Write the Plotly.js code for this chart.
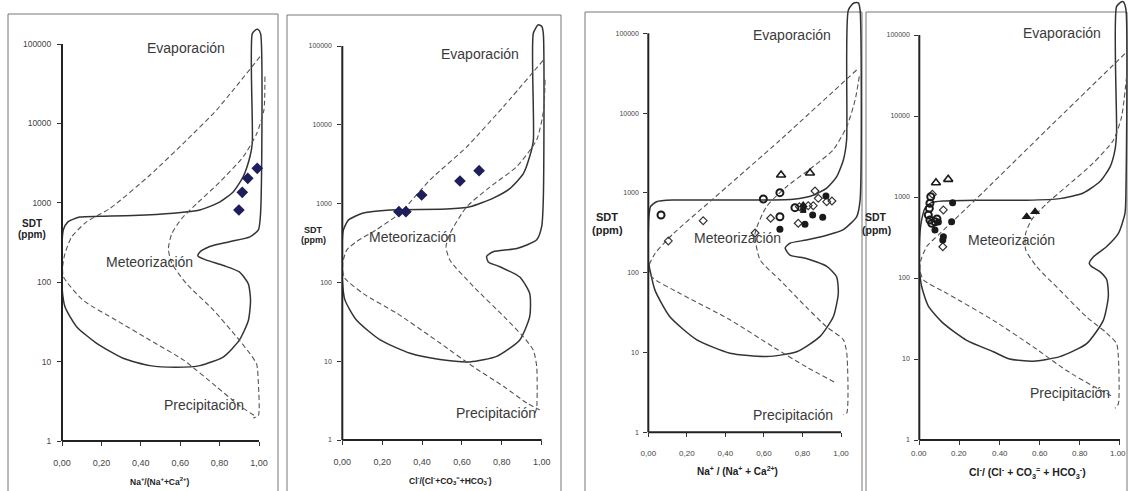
<!DOCTYPE html>
<html>
<head>
<meta charset="utf-8">
<script src="https://cdn.plot.ly/plotly-3.0.1.min.js"></script>
<style>html,body{margin:0;padding:0;background:#fff;overflow:hidden;width:1128px;height:491px;}#chart{width:1128px;height:491px;display:block;overflow:hidden;}</style>
</head>
<body>
<div id="chart"></div>
<script>
// ---------- DATA ----------
const xTickVals = [0, 0.2, 0.4, 0.6, 0.8, 1.0];
const xTickTextComma = ["0,00", "0,20", "0,40", "0,60", "0,80", "1,00"];
const xTickTextDot = ["0.00", "0.20", "0.40", "0.60", "0.80", "1.00"];
const yTickVals = [1, 10, 100, 1000, 10000, 100000];
const yTickText = ["1", "10", "100", "1000", "10000", "100000"];
const regionLabels = ["Evaporación", "Meteorización", "Precipitación"];
const xTitles = [
  "Na<sup>+</sup>/(Na<sup>+</sup>+Ca<sup>2+</sup>)",
  "Cl<sup>-</sup>/(Cl<sup>-</sup>+CO<sub>3</sub><sup>=</sup>+HCO<sub>3</sub><sup>-</sup>)",
  "Na<sup>+</sup> / (Na<sup>+</sup> + Ca<sup>2+</sup>)",
  "Cl<sup>-</sup>/ (Cl<sup>-</sup> + CO<sub>3</sub><sup>=</sup> + HCO<sub>3</sub><sup>-</sup>)"
];

// Panel 1 (Na) Gibbs boundary
const p1OutlineX = [0.987,0.966,0.966,0.954,0.92,0.87,0.80,0.70,0.565,0.36,0.19,0.09,0.03,0.007,0,0,0,0.015,0.074,0.176,0.31,0.447,0.58,0.70,0.82,0.90,0.946,0.957,0.946,0.90,0.82,0.73,0.69,0.70,0.75,0.85,0.954,0.997,1.008,1.008,0.995,0.987];
const p1OutlineY = [153000,135000,5620,3800,2140,1380,1020,813,741,692,676,661,575,457,309,155,87,49,27.5,17,11,8.9,8.5,8.9,11.5,18.6,33,59,95,135,162,191,214,240,282,324,372,457,741,135000,153000,153000];
const p1OuterDashX = [1.005,0.785,0.633,0.447,0.244,0.125,0.049,0.015,0.003,0.007,0.108,0.277,0.447,0.616,0.785,0.90,0.988];
const p1OuterDashY = [69200,14800,6170,2240,851,575,372,229,155,117,59,33,18.6,10.5,4.8,2.8,2.0];
const p1InnerDashX = [1.03,1.025,0.988,0.92,0.80,0.684,0.607,0.557,0.54,0.557,0.633,0.768,0.887,0.954,0.988,0.997,0.997,0.971];
const p1InnerDashY = [38900,14800,7410,3800,1820,977,631,407,263,174,95,44.7,20.4,12.6,9.3,5.2,2.1,1.95];
const p1SamplesX = [0.991, 0.943, 0.915, 0.898];
const p1SamplesY = [2720, 2035, 1356, 811];

// Panel 2 (Cl)
const p2OutlineX = [0.983,0.958,0.958,0.94,0.908,0.84,0.757,0.64,0.523,0.24,0.105,0.03,0.005,0,0,0.013,0.072,0.19,0.34,0.49,0.64,0.774,0.89,0.94,0.94,0.89,0.79,0.732,0.724,0.757,0.875,0.975,1.0,1.008,1.008,1.0,0.983];
const p2OutlineY = [186000,145000,6310,3980,2400,1550,1175,912,851,832,759,617,457,347,107,60,33,18.6,12.6,10.5,9.8,11.5,18.6,37,72,117,158,182,214,245,269,347,513,1120,145000,178000,186000];
const p2OuterDashX = [1.008,0.808,0.624,0.44,0.289,0.172,0.072,0.022,0.002,0.008,0.105,0.273,0.49,0.657,0.808,0.925,0.99];
const p2OuterDashY = [66100,17000,5250,2000,759,468,331,257,174,117,72,40.7,17,8.5,4.8,2.95,2.4];
const p2InnerDashX = [1.017,1.01,0.975,0.875,0.74,0.624,0.54,0.52,0.54,0.657,0.81,0.908,0.958,0.975,0.975,0.967];
const p2InnerDashY = [37200,15500,6460,2950,1620,912,417,282,191,89,37,20.4,13.8,8.5,2.6,2.2];
const p2SamplesX = [0.686, 0.590, 0.398, 0.319, 0.284];
const p2SamplesY = [2617, 1936, 1285, 789, 789];

// Panel 3 (Na)
const p3OutlineX = [1.067,1.038,1.029,1.012,0.977,0.926,0.856,0.753,0.614,0.337,0.13,0.043,0.012,0.003,0,0,0.009,0.035,0.112,0.25,0.424,0.614,0.77,0.89,0.96,0.986,0.977,0.926,0.82,0.735,0.71,0.735,0.82,0.926,1.012,1.081,1.099,1.099,1.09,1.067];
const p3OutlineY = [240000,195000,4570,2570,1585,1150,933,832,813,813,813,776,676,501,316,141,107,60,28,14.5,9.8,8.9,10.2,15.8,28,55,89,120,151,166,204,234,257,295,347,501,813,195000,240000,240000];
const p3OuterDashX = [1.081,0.683,0.329,0.13,0.035,0.003,0.017,0.164,0.424,0.649,0.82,0.978];
const p3OuterDashY = [34700,4570,813,309,174,120,89,55,25.7,11.7,6.6,4.1];
const p3InnerDashX = [1.095,1.073,1.03,0.96,0.856,0.718,0.614,0.554,0.58,0.683,0.82,0.926,1.012,1.03,1.03,1.012];
const p3InnerDashY = [28800,14500,6760,3470,2140,1200,676,309,145,81,37,20.9,14.5,9.8,1.74,1.66];
const p3OpenCircleX = [0.066, 0.597, 0.683, 0.683, 0.761];
const p3OpenCircleY = [528, 839, 1007, 503, 653];
const p3OpenDiamondX = [0.104, 0.285, 0.635, 0.554, 0.865, 0.882, 0.926, 0.953, 0.784, 0.830, 0.856, 0.778];
const p3OpenDiamondY = [250, 449, 481, 314, 1057, 855, 776, 792, 672, 692, 692, 416];
const p3FilledCircleX = [0.683, 0.922, 0.853, 0.905, 0.813];
const p3FilledCircleY = [350, 915, 528, 494, 404];
const p3OpenTriangleX = [0.689, 0.839];
const p3OpenTriangleY = [1675, 1775];
const p3FilledTriangleX = [0.804];
const p3FilledTriangleY = [705];
const p3FilledSquareX = [0.804];
const p3FilledSquareY = [611];

// Panel 4 (Cl)
const p4OutlineX = [1.008,0.983,0.983,0.975,0.95,0.90,0.817,0.70,0.535,0.286,0.12,0.061,0.028,0.012,0.003,0,0,0.012,0.045,0.12,0.236,0.369,0.45,0.568,0.70,0.834,0.917,0.942,0.934,0.90,0.859,0.847,0.867,0.934,0.992,1.025,1.03,1.03,1.017,1.008];
const p4OutlineY = [257000,224000,6170,3800,2340,1550,1120,955,912,912,891,851,724,525,355,245,138,78,45,27.5,17,12.3,10,9.4,10.7,15.5,30,59,95,120,138,151,182,245,355,631,1350,204000,257000,257000];
const p4OuterDashX = [1.025,0.635,0.277,0.103,0.037,0.008,0.003,0.02,0.136,0.369,0.568,0.734,0.867,0.967];
const p4OuterDashY = [58900,6760,912,355,245,166,126,95,65,30,14.1,7.2,4.6,3.4];
const p4InnerDashX = [1.033,1.008,0.967,0.867,0.734,0.635,0.56,0.53,0.53,0.585,0.70,0.834,0.934,0.983,0.992,0.992,0.975];
const p4InnerDashY = [30900,9770,5010,2630,1350,832,525,355,224,138,71,33,20.9,15.5,10.7,2.8,2.45];
const p4OpenCircleX = [0.057, 0.053, 0.050, 0.045, 0.053, 0.062, 0.078, 0.088];
const p4OpenCircleY = [1008, 836, 725, 600, 520, 473, 495, 535];
const p4OpenDiamondX = [0.12, 0.117, 0.065];
const p4OpenDiamondY = [692, 243, 1080];
const p4FilledCircleX = [0.166, 0.161, 0.095, 0.078, 0.12, 0.117];
const p4FilledCircleY = [851, 496, 490, 392, 324, 294];
const p4OpenTriangleX = [0.083, 0.144];
const p4OpenTriangleY = [1502, 1652];
const p4FilledTriangleX = [0.535, 0.577];
const p4FilledTriangleY = [571, 658];

// ---------- LAYOUT GEOMETRY (pixels) ----------
const W = 1128, H = 491;
const panels = [
  {x0: 62, x1: 259, yTop: 44, yBot: 441, xmax: 1.05, ymax: 5.30, box: [8, 14, 278, 497], yTickSize: 8.5, xTickSize: 9, xStand: 9, yStand: 4, xTickText: xTickTextComma, xLabAnn: false,
   labels: [[186, 48], [149, 262], [204, 405]], sdt: [32, 223, 234, 10], xt: [160, 481, 8.5]},
  {x0: 342.3, x1: 541.7, yTop: 46, yBot: 440, xmax: 1.05, ymax: 5.35, box: [287, 15, 561, 497], yTickSize: 7, xTickSize: 9, xStand: 9, yStand: 4, xTickText: xTickTextComma, xLabAnn: false,
   labels: [[480, 54], [412, 237], [496, 413]], sdt: [313, 230, 240, 9], xt: [450, 480, 8.5]},
  {x0: 648.3, x1: 841, yTop: 33.3, yBot: 432.3, xmax: 1.12, ymax: 5.41, box: [585, 12, 862, 497], yTickSize: 7, xTickSize: 8, xStand: 9, yStand: 3, xTickText: xTickTextComma, xLabAnn: false,
   labels: [[792, 35], [737, 238], [793, 415]], sdt: [607, 217, 230, 11], xt: [737, 471, 10]},
  {x0: 919.3, x1: 1120, yTop: 35, yBot: 440, xmax: 1.04, ymax: 5.43, box: [866, 12, 1127, 497], yTickSize: 7, xTickSize: 8, xStand: 2, yStand: 3, xTickText: xTickTextDot, xLabAnn: 453,
   labels: [[1062, 33], [1011, 240], [1070, 393]], sdt: [876, 217, 230, 10.5], xt: [1027, 473, 10.5]}
];

const FONT = "Liberation Sans, Arial, Helvetica, sans-serif";
const TXT = "#333";
const layout = {
  width: W, height: H, autosize: false,
  margin: {l: 0, r: 0, t: 0, b: 0, pad: 0},
  paper_bgcolor: "#fff", plot_bgcolor: "rgba(0,0,0,0)",
  showlegend: false,
  font: {family: FONT, color: TXT},
  shapes: [], annotations: []
};
const px = v => v / W;
const py = v => 1 - v / H;

panels.forEach((p, i) => {
  const k = i === 0 ? "" : String(i + 1);
  const unitX = p.x1 - p.x0;
  const dec = (p.yBot - p.yTop) / 5;
  layout["xaxis" + k] = {
    domain: [px(p.x0), Math.min(1, px(p.x0 + p.xmax * unitX))],
    range: [0, p.xmax], anchor: "y" + k, showgrid: false, zeroline: false, showline: false,
    tickmode: "array", tickvals: xTickVals, ticktext: p.xTickText,
    ticks: "outside", ticklen: 4, tickwidth: 1, tickcolor: "#333",
    showticklabels: !p.xLabAnn,
    ticklabelstandoff: p.xStand, ticklabeloverflow: "allow",
    tickfont: {family: FONT, size: p.xTickSize, color: "#444"}, fixedrange: true
  };
  layout["yaxis" + k] = {
    domain: [py(p.yBot), Math.min(1, py(p.yBot - p.ymax * dec))],
    type: "log", range: [0, p.ymax], anchor: "x" + k, showgrid: false, zeroline: false, showline: false,
    tickmode: "array", tickvals: yTickVals, ticktext: yTickText,
    ticks: "outside", ticklen: 4, tickwidth: 1, tickcolor: "#333",
    ticklabelstandoff: p.yStand, ticklabeloverflow: "allow",
    tickfont: {family: FONT, size: p.yTickSize, color: "#444"}, fixedrange: true
  };
  if (p.xLabAnn) {
    // tick labels placed at the tick positions; the last one is right-aligned to stay inside the page
    xTickVals.forEach((v, j) => {
      const last = j === xTickVals.length - 1;
      layout.annotations.push({xref: "x" + k, yref: "paper", x: v, y: py(p.xLabAnn),
        xanchor: last ? "right" : "center", xshift: last ? 8 : 0, yanchor: "middle", showarrow: false,
        text: p.xTickText[j], font: {family: FONT, size: p.xTickSize, color: "#444"}});
    });
  }
  // panel frame
  layout.shapes.push({type: "rect", xref: "paper", yref: "paper",
    x0: px(p.box[0]), x1: px(p.box[2]), y0: py(p.box[3]), y1: py(p.box[1]),
    line: {color: "#777", width: 1}, layer: "below"});
  // axis lines (0..1 and 1..100000)
  layout.shapes.push({type: "line", xref: "paper", yref: "paper",
    x0: px(p.x0), x1: px(p.x0), y0: py(p.yBot), y1: py(p.yTop),
    line: {color: "#222", width: 2}});
  layout.shapes.push({type: "line", xref: "paper", yref: "paper",
    x0: px(p.x0), x1: px(p.x1), y0: py(p.yBot), y1: py(p.yBot),
    line: {color: "#222", width: 2}});
  // region labels
  p.labels.forEach((pos, j) => {
    layout.annotations.push({xref: "paper", yref: "paper", x: px(pos[0]), y: py(pos[1]),
      xanchor: "center", yanchor: "middle", showarrow: false, text: regionLabels[j],
      font: {family: FONT, size: 14, color: "#3a3a3a"}});
  });
  layout.annotations.push({xref: "paper", yref: "paper", x: px(p.sdt[0]), y: py(p.sdt[1]),
    xanchor: "center", yanchor: "middle", showarrow: false, text: "<b>SDT</b>",
    font: {family: FONT, size: p.sdt[3], color: "#222"}});
  layout.annotations.push({xref: "paper", yref: "paper", x: px(p.sdt[0]), y: py(p.sdt[2]),
    xanchor: "center", yanchor: "middle", showarrow: false, text: "<b>(ppm)</b>",
    font: {family: FONT, size: p.sdt[3], color: "#222"}});
  layout.annotations.push({xref: "paper", yref: "paper", x: px(p.xt[0]), y: py(p.xt[1]),
    xanchor: "center", yanchor: "middle", showarrow: false, text: "<b>" + xTitles[i] + "</b>",
    font: {family: FONT, size: p.xt[2], color: "#222"}});
});

// ---------- TRACES ----------
const traces = [];
function curves(k, ox, oy, dx1, dy1, dx2, dy2) {
  const xa = "x" + (k === 1 ? "" : k), ya = "y" + (k === 1 ? "" : k);
  traces.push({x: ox, y: oy, xaxis: xa, yaxis: ya, type: "scatter", mode: "lines",
    line: {color: "#333", width: 1.5, shape: "spline", smoothing: 0.6}, hoverinfo: "skip"});
  traces.push({x: dx1, y: dy1, xaxis: xa, yaxis: ya, type: "scatter", mode: "lines",
    line: {color: "#555", width: 1.1, dash: "5px,3px", shape: "spline", smoothing: 0.6}, hoverinfo: "skip"});
  traces.push({x: dx2, y: dy2, xaxis: xa, yaxis: ya, type: "scatter", mode: "lines",
    line: {color: "#555", width: 1.1, dash: "5px,3px", shape: "spline", smoothing: 0.6}, hoverinfo: "skip"});
}
function pts(k, x, y, symbol, size, color, lw) {
  const xa = "x" + (k === 1 ? "" : k), ya = "y" + (k === 1 ? "" : k);
  traces.push({x: x, y: y, xaxis: xa, yaxis: ya, type: "scatter", mode: "markers", cliponaxis: false,
    marker: {symbol: symbol, size: size, color: color, line: {color: color, width: lw}}});
}
curves(1, p1OutlineX, p1OutlineY, p1OuterDashX, p1OuterDashY, p1InnerDashX, p1InnerDashY);
curves(2, p2OutlineX, p2OutlineY, p2OuterDashX, p2OuterDashY, p2InnerDashX, p2InnerDashY);
curves(3, p3OutlineX, p3OutlineY, p3OuterDashX, p3OuterDashY, p3InnerDashX, p3InnerDashY);
curves(4, p4OutlineX, p4OutlineY, p4OuterDashX, p4OuterDashY, p4InnerDashX, p4InnerDashY);

const NAVY = "#1e1e5c", BLK = "#1a1a1a";
pts(1, p1SamplesX, p1SamplesY, "diamond", 9, NAVY, 0);
pts(2, p2SamplesX, p2SamplesY, "diamond", 9, NAVY, 0);
pts(3, p3OpenDiamondX, p3OpenDiamondY, "diamond-open", 6, "#333", 1.2);
pts(3, p3OpenCircleX, p3OpenCircleY, "circle-open", 7, BLK, 2);
pts(3, p3FilledCircleX, p3FilledCircleY, "circle", 7, BLK, 0);
pts(3, p3OpenTriangleX, p3OpenTriangleY, "triangle-up-open", 8, BLK, 1.6);
pts(3, p3FilledTriangleX, p3FilledTriangleY, "triangle-up", 8, BLK, 0);
pts(3, p3FilledSquareX, p3FilledSquareY, "square", 6, BLK, 0);
pts(4, p4OpenDiamondX, p4OpenDiamondY, "diamond-open", 6, "#333", 1.2);
pts(4, p4OpenCircleX, p4OpenCircleY, "circle-open", 7, BLK, 2);
pts(4, p4FilledCircleX, p4FilledCircleY, "circle", 7, BLK, 0);
pts(4, p4OpenTriangleX, p4OpenTriangleY, "triangle-up-open", 8, BLK, 1.6);
pts(4, p4FilledTriangleX, p4FilledTriangleY, "triangle-up", 9, BLK, 0);

Plotly.newPlot("chart", traces, layout, {staticPlot: true, displayModeBar: false});
</script>
</body>
</html>
